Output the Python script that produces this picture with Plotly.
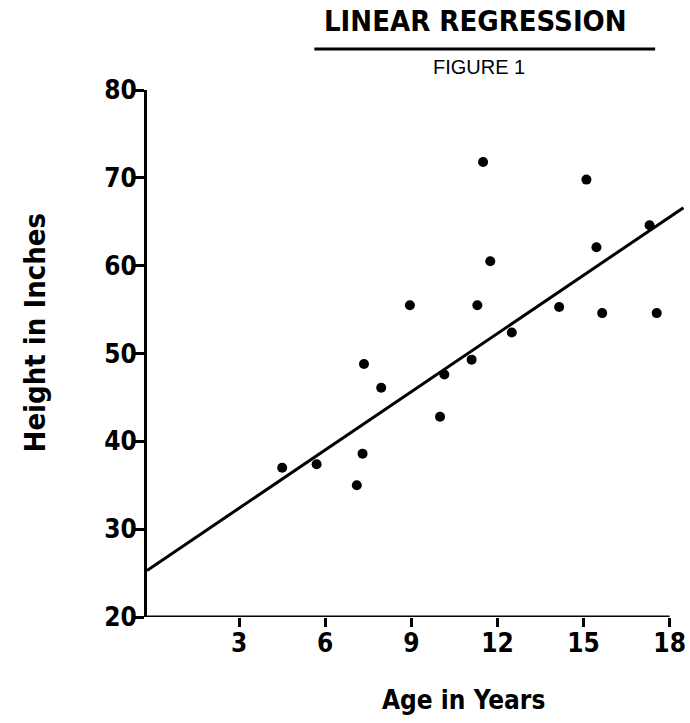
import plotly.graph_objects as go

# ---- data ----
age = [4.5, 5.7, 7.1, 7.3, 7.35, 7.95, 8.95, 10.0, 10.15, 11.1,
       11.3, 11.5, 11.75, 12.5, 14.15, 15.1, 15.45, 15.65, 17.3, 17.55]
height = [37.0, 37.4, 35.0, 38.6, 48.8, 46.1, 55.5, 42.8, 47.6, 49.3,
          55.5, 71.8, 60.5, 52.4, 55.3, 69.8, 62.1, 54.6, 64.6, 54.6]
line_age = [-0.21, 18.48]
line_height = [25.3, 66.6]
x_ticks = [3, 6, 9, 12, 15, 18]
y_ticks = [20, 30, 40, 50, 60, 70, 80]
x_min, x_view_max = -0.21, 18.5
y_min, y_max = 20, 80

W, H = 690, 723
ML, MR, MT, MB = 147, 4, 90, 106
PW, PH = W - ML - MR, H - MT - MB


def px(xp):
    return (xp - ML) / PW


def py(yp):
    return (H - MB - yp) / PH


NARROW = "Liberation Sans Narrow, DejaVu Sans Condensed, sans-serif"

fig = go.Figure()
fig.add_trace(go.Scatter(x=line_age, y=line_height, mode="lines",
                         line=dict(color="black", width=3), hoverinfo="skip"))
fig.add_trace(go.Scatter(x=age, y=height, mode="markers",
                         marker=dict(color="black", size=10), cliponaxis=False))

fig.update_layout(
    width=W, height=H, margin=dict(l=ML, r=MR, t=MT, b=MB),
    paper_bgcolor="white", plot_bgcolor="white", showlegend=False,
    xaxis=dict(range=[x_min, x_view_max], tickvals=x_ticks, ticktext=[str(v) for v in x_ticks],
               showgrid=False, zeroline=False, showline=False,
               ticks="outside", ticklen=9, tickwidth=3, tickcolor="black",
               ticklabelstandoff=-6,
               tickfont=dict(family=NARROW, size=26, color="black", weight="bold")),
    yaxis=dict(range=[y_min, y_max], tickvals=y_ticks, ticktext=[str(v) for v in y_ticks],
               showgrid=False, zeroline=False, showline=True, linecolor="black", linewidth=3,
               ticks="outside", ticklen=9, tickwidth=3, tickcolor="black",
               ticklabelstandoff=-7,
               tickfont=dict(family=NARROW, size=26, color="black", weight="bold")),
)

# x axis line from the y axis to the last tick
fig.add_shape(type="line", xref="x", yref="y", x0=x_min, x1=max(x_ticks), y0=y_min, y1=y_min,
              line=dict(color="black", width=3))

# title underline
fig.add_shape(type="line", xref="paper", yref="paper", x0=px(315), x1=px(657), y0=py(49), y1=py(49),
              line=dict(color="black", width=3))

fig.add_annotation(text="LINEAR REGRESSION", xref="paper", yref="paper", x=px(477), y=py(21),
                   xanchor="center", yanchor="middle", showarrow=False,
                   font=dict(family=NARROW, size=29, color="black", weight="bold"))
fig.add_annotation(text="FIGURE 1", xref="paper", yref="paper", x=px(480), y=py(67),
                   xanchor="center", yanchor="middle", showarrow=False,
                   font=dict(family="Liberation Sans, Arial, sans-serif", size=20, color="black"))
fig.add_annotation(text="Height in Inches", xref="paper", yref="paper", x=px(35), y=py(333),
                   xanchor="center", yanchor="middle", showarrow=False, textangle=-90,
                   font=dict(family=NARROW, size=29, color="black", weight="bold"))
fig.add_annotation(text="Age in Years", xref="paper", yref="paper", x=px(465), y=py(700),
                   xanchor="center", yanchor="middle", showarrow=False,
                   font=dict(family=NARROW, size=26, color="black", weight="bold"))

fig.write_html("out.html", config={"displayModeBar": False},
               post_script="document.body.style.margin='0';")
